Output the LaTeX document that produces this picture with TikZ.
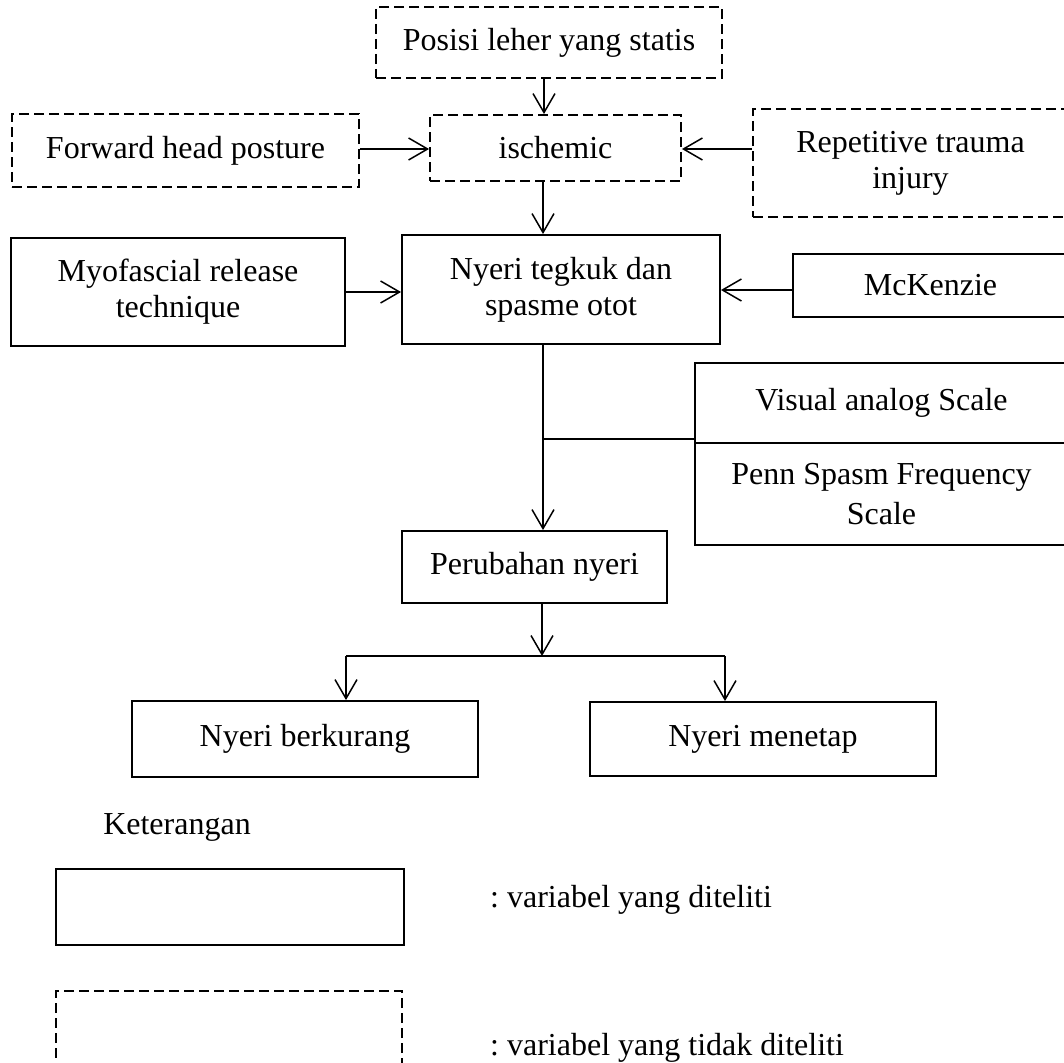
\documentclass[tikz,border=0pt]{standalone}
\usepackage{fontspec}
\setmainfont{Liberation Serif}
\usetikzlibrary{arrows.meta,calc}
\begin{document}
\begin{tikzpicture}[x=1pt,y=-1pt,
  font=\fontsize{32}{36}\selectfont\frenchspacing,
  box/.style={draw,line width=1.9pt,align=center,inner sep=0pt},
  dbox/.style={box,dash pattern=on 10pt off 5pt},
  arr/.style={line width=1.5pt,-{Straight Barb[length=19pt,width=22pt,line width=1.5pt]}},
  ln/.style={line width=1.5pt}]
\useasboundingbox (0,0) rectangle (1064,1062);
\clip (0,0) rectangle (1064,1062);
% nodes
\node[dbox,minimum width=346pt,minimum height=71pt] (posisi) at (549,42.5) {Posisi leher yang statis};
\node[dbox,minimum width=251pt,minimum height=66pt] (isch) at (555.5,148) {ischemic};
\node[dbox,minimum width=347pt,minimum height=73pt] (fwd) at (185.5,150.5) {Forward head posture};
\node[dbox,minimum width=315pt,minimum height=108pt] (rep) at (910.5,163) {Repetitive trauma\\injury};
\node[box,minimum width=334pt,minimum height=108pt] (myo) at (178,292) {Myofascial release\\technique};
\node[box,minimum width=318pt,minimum height=109pt] (nyeri) at (561,289.5) {Nyeri tegkuk dan\\spasme otot};
\node[box,minimum width=275pt,minimum height=63pt] (mck) at (930.5,285.5) {McKenzie};
\node[box,minimum width=373pt,minimum height=80pt] (vas) at (881.5,403) {Visual analog Scale};
\node[box,minimum width=373pt,minimum height=102pt] (penn) at (881.5,494) {Penn Spasm Frequency\\[4pt]Scale};
\node[box,minimum width=265pt,minimum height=72pt] (perub) at (534.5,567) {Perubahan nyeri};
\node[box,minimum width=346pt,minimum height=76pt] (berk) at (305,739) {Nyeri berkurang};
\node[box,minimum width=346pt,minimum height=74pt] (menet) at (763,739) {Nyeri menetap};
\node (ket) at (177,827) {Keterangan};
\node[box,minimum width=348pt,minimum height=76pt] (legs) at (230,907) {};
\node[dbox,minimum width=346pt,minimum height=76pt] (legd) at (229,1029) {};
\node[anchor=west,inner sep=0pt] (legst) at (490,900) {: variabel yang diteliti};
\node[anchor=west,inner sep=0pt] (legdt) at (490,1048) {: variabel yang tidak diteliti};
% helper coordinates
\coordinate (cx1) at (544,0);
\coordinate (cx2) at (543,0);
\coordinate (cy1) at (0,149);
\coordinate (cy2) at (0,292);
\coordinate (cy3) at (0,290);
\coordinate (j1) at (543,439);
\coordinate (j2) at (542,656);
\coordinate (bl) at (346,656);
\coordinate (br) at (725,656);
% connectors
\draw[arr] (posisi.south -| cx1) -- (isch.north -| cx1);
\draw[arr] (isch.south -| cx2) -- (nyeri.north -| cx2);
\draw[arr] (fwd.east |- cy1) -- (isch.west |- cy1);
\draw[arr] (rep.west |- cy1) -- (isch.east |- cy1);
\draw[arr] (myo.east |- cy2) -- (nyeri.west |- cy2);
\draw[arr] (mck.west |- cy3) -- (nyeri.east |- cy3);
\draw[arr] (nyeri.south -| cx2) -- (perub.north -| cx2);
\draw[ln] (j1) -- (j1 -| vas.west);
\draw[arr] (perub.south -| j2) -- (j2);
\draw[ln] (bl) -- (br);
\draw[arr] (bl) -- (bl |- berk.north);
\draw[arr] (br) -- (br |- menet.north);
\end{tikzpicture}
\end{document}
